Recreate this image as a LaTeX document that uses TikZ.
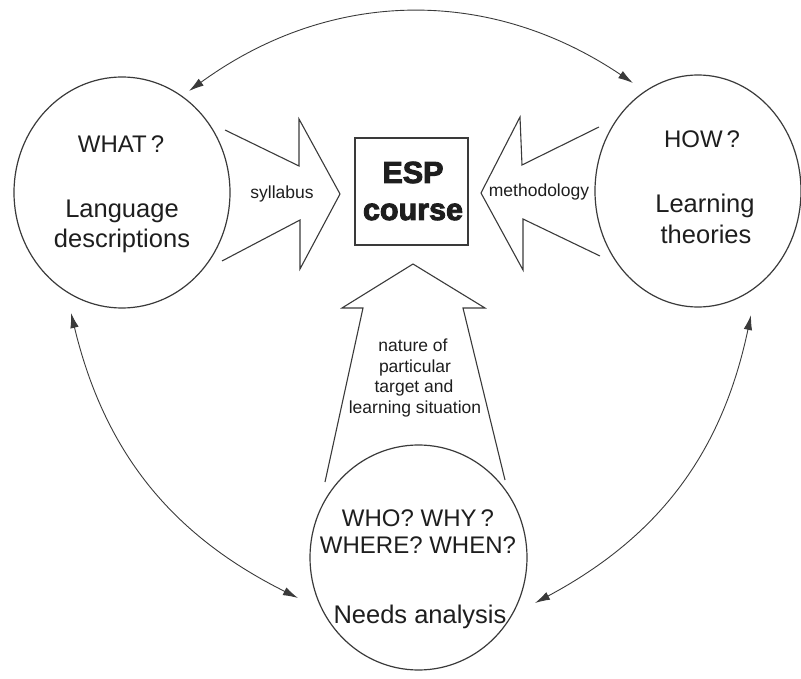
\documentclass[tikz,border=0pt]{standalone}
\usepackage{fontspec}
\setmainfont{Liberation Sans}
\newfontfamily\heavyfont{Liberation Sans}[BoldFeatures={FakeBold=3}]
\usetikzlibrary{shapes.geometric,arrows.meta}
\definecolor{ink}{HTML}{1E1E1E}
\definecolor{stroke}{HTML}{3A3A3A}
\begin{document}
\begin{tikzpicture}[x=1pt,y=-1pt,
  ring/.style={draw=stroke, line width=1.2pt, ellipse, inner sep=0pt},
  big/.style={font=\fontsize{24}{28}\selectfont, text=ink, anchor=base, inner sep=0pt},
  bigl/.style={font=\fontsize{25.5}{28}\selectfont, text=ink, anchor=base, inner sep=0pt},
  small/.style={font=\fontsize{17.5}{20}\selectfont, text=ink, anchor=base, inner sep=0pt},
  heavy/.style={font=\heavyfont\bfseries\fontsize{30.5}{36}\selectfont, text=ink, anchor=base, inner sep=0pt},
  fat/.style={draw=stroke, line width=1.1pt, line join=miter},
  link/.style={draw=stroke, line width=0.9pt, {Latex[length=15pt,width=8.5pt]}-{Latex[length=15pt,width=8.5pt]}}]
\useasboundingbox (0,0) rectangle (801,679);

% circles
\node[ring, minimum width=216pt, minimum height=231pt] (what) at (122,192.5) {};
\node[ring, minimum width=206pt, minimum height=232pt] (how) at (698,191) {};
\node[ring, minimum width=217pt, minimum height=225pt] (who) at (418.5,557.5) {};

% central box
\node[draw=stroke, line width=1.3pt, minimum width=113pt, minimum height=107pt, inner sep=0pt] (esp) at (411.5,191.5) {};
\node[heavy] (espA) at (413,183) {ESP};
\node[heavy] (espB) at (413,220) {course};

% circle texts
\node[big] (whatq) at (121,153) {WHAT\,?};
\node[bigl] (lang1) at (122,218) {Language};
\node[bigl] (lang2) at (122,248) {descriptions};
\node[big] (howq) at (702,148) {HOW\,?};
\node[bigl] (learn1) at (705,213) {Learning};
\node[bigl] (learn2) at (706,244) {theories};
\node[big] (whoq1) at (418,526) {WHO? WHY\,?};
\node[big] (whoq2) at (418,553) {WHERE? WHEN?};
\node[bigl] (needs) at (420,623) {Needs analysis};

% big hollow arrows
\draw[fat] (225,130) -- (299,166) -- (299,119) -- (340,194) -- (300,269) -- (300,220) -- (222,261);
\draw[fat] (599,127) -- (522,165) -- (520,117) -- (481,193) -- (523,270) -- (523,219) -- (600,256);
\draw[fat] (325,482) -- (363,308) -- (342,308) -- (413,264) -- (485,308) -- (463,308) -- (505,480);

% arrow labels
\node[small] (syl) at (282,199) {syllabus};
\node[small] (meth) at (539,197) {methodology};
\node[small] (nat1) at (413,352) {nature of};
\node[small] (nat2) at (415,372) {particular};
\node[small] (nat3) at (414,392) {target and};
\node[small] (nat4) at (415,413) {learning situation};

% curved double arrows
\coordinate (tl) at (189,91);
\coordinate (tr) at (633,83);
\coordinate (ll) at (71,313);
\coordinate (lb) at (298,598);
\coordinate (rb) at (535,603);
\coordinate (rr) at (751,315);
\draw[link] (tl) to[bend left=35] (tr);
\draw[link] (ll) to[bend right=25] (lb);
\draw[link] (rb) to[bend right=25] (rr);
\end{tikzpicture}
\end{document}
